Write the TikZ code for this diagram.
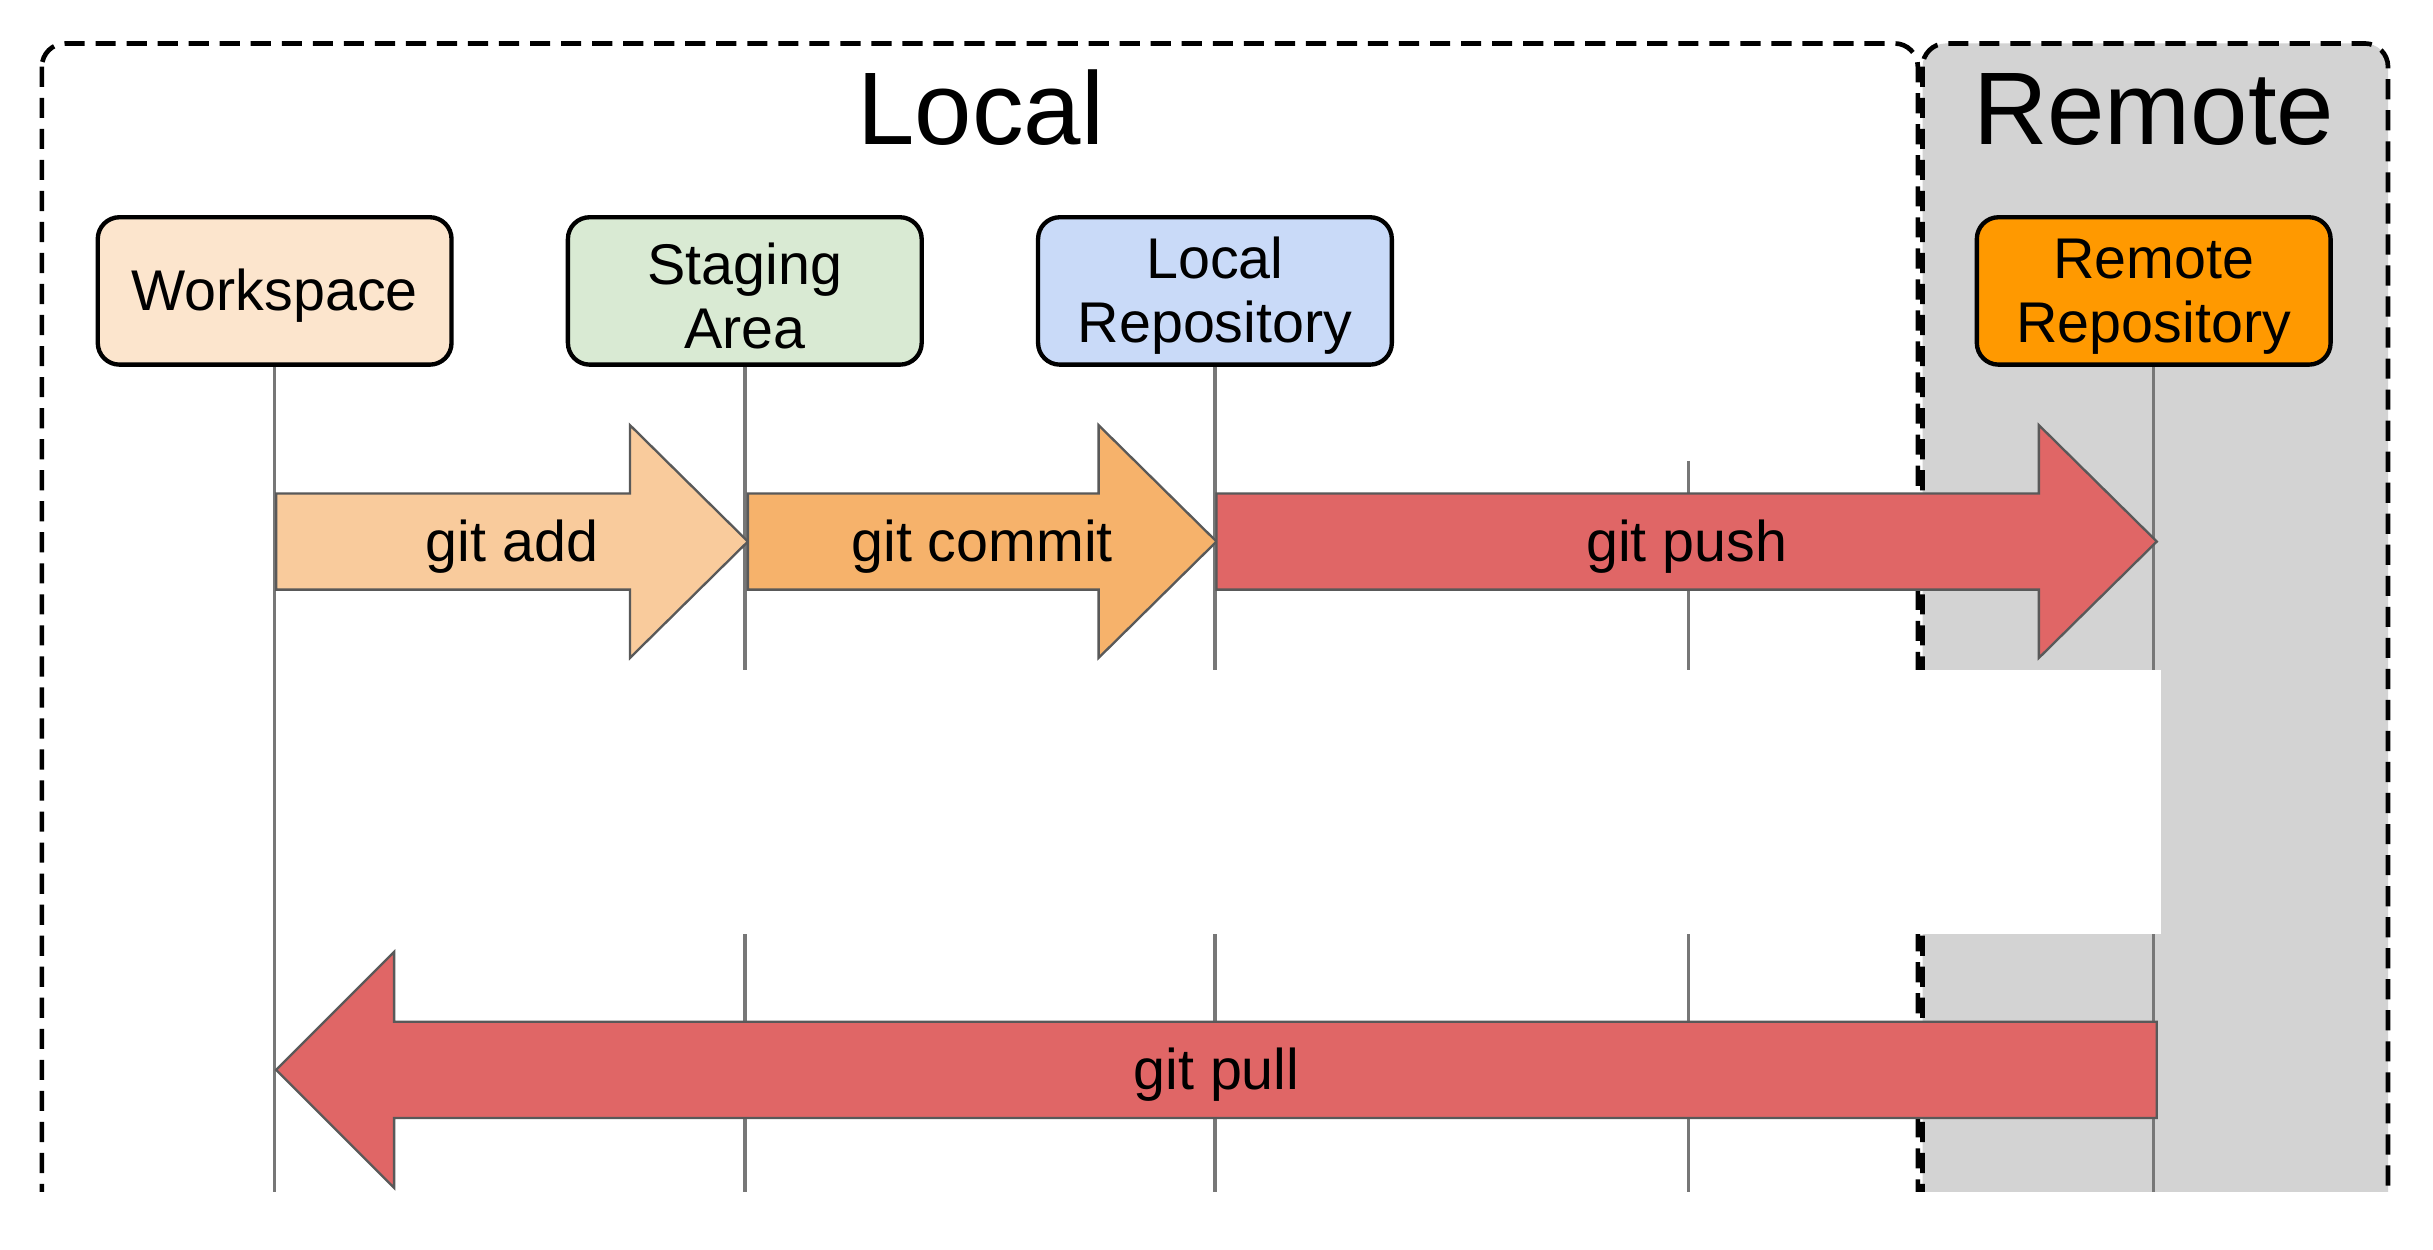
\documentclass[tikz,border=0pt]{standalone}
\usepackage{fontspec}
\setmainfont{Liberation Sans}
\definecolor{wsfill}{HTML}{FCE5CD}
\definecolor{safill}{HTML}{D9EAD3}
\definecolor{lrfill}{HTML}{C9DAF8}
\definecolor{rrfill}{HTML}{FF9900}
\definecolor{addfill}{HTML}{F9CB9C}
\definecolor{comfill}{HTML}{F6B26B}
\definecolor{redfill}{HTML}{E06666}
\definecolor{remgrey}{HTML}{D3D3D3}
\definecolor{linegrey}{HTML}{777777}
\newcommand\blockR[4]{% fill, tail x, tip x, centre y
  \filldraw[blockarrow, fill=#1] ({#2},{#4-31}) -- ({#3-76},{#4-31}) -- ({#3-76},{#4-75}) -- ({#3},{#4}) -- ({#3-76},{#4+75}) -- ({#3-76},{#4+31}) -- ({#2},{#4+31}) -- cycle;}
\newcommand\blockL[4]{% fill, tail x, tip x, centre y
  \filldraw[blockarrow, fill=#1] ({#2},{#4-31}) -- ({#3+76},{#4-31}) -- ({#3+76},{#4-76}) -- ({#3},{#4}) -- ({#3+76},{#4+76}) -- ({#3+76},{#4+31}) -- ({#2},{#4+31}) -- cycle;}
\newcommand\upstrut{\rule{0pt}{33pt}}
\begin{document}
\begin{tikzpicture}[x=1pt,y=-1pt,
  repo/.style={draw=black, line width=2.8pt, rounded corners=14pt, minimum width=228pt, minimum height=95pt, align=center, inner sep=0pt, font=\fontsize{37}{41}\selectfont},
  vline/.style={draw=linegrey, line width=2.2pt},
  blockarrow/.style={draw=black!65, line width=1.5pt, line join=miter},
  frame/.style={draw=black, line width=3pt, dash pattern=on 13pt off 7pt},
  title/.style={font=\fontsize{66.5}{70}\selectfont, anchor=base, inner sep=0pt},
  cmd/.style={font=\fontsize{37}{41}\selectfont, anchor=base, inner sep=0pt}]
\useasboundingbox (0,0) rectangle (1568,805);
\fill[white] (0,0) rectangle (1568,805);
% frames
\begin{scope}
  \clip (0,0) rectangle (1568,768);
  \draw[frame, rounded corners=15pt] (27,28) rectangle (1236,820);
  \filldraw[frame, fill=remgrey, rounded corners=15pt] (1239,28) rectangle (1539,820);
\end{scope}
\node[title] (loc) at (632,93) {Local};
\node[title] (rem) at (1388,93) {Remote};
% repositories
\node[repo, fill=wsfill] (ws) at (177,187.5) {\upstrut Workspace};
\node[repo, fill=safill] (sa) at (480,187.5) {\upstrut Staging\\Area};
\node[repo, fill=lrfill] (lr) at (783,187.5) {\upstrut Local\\Repository};
\node[repo, fill=rrfill] (rr) at (1388,187.5) {\upstrut Remote\\Repository};
% lifelines
\coordinate (wsE) at (ws.south |- 0,768);
\coordinate (saE) at (sa.south |- 0,768);
\coordinate (lrE) at (lr.south |- 0,768);
\coordinate (rrE) at (rr.south |- 0,768);
\coordinate (mT) at (1088,297);
\coordinate (mE) at (1088,768);
\draw[vline] (ws.south) -- (wsE);
\draw[vline] (sa.south) -- (saE);
\draw[vline] (lr.south) -- (lrE);
\draw[vline] (rr.south) -- (rrE);
\draw[vline] (mT) -- (mE);
% blank band
\fill[white] (180,432) rectangle (1393,602);
% block arrows
\blockR{addfill}{178}{482}{349}
\blockR{comfill}{482}{784}{349}
\blockR{redfill}{784}{1390}{349}
\blockL{redfill}{1390}{178}{689.5}
\node[cmd] (addl) at (330,362) {git add};
\node[cmd] (coml) at (633,362) {git commit};
\node[cmd] (pushl) at (1087,362) {git push};
\node[cmd] (pulll) at (784,702) {git pull};
\end{tikzpicture}
\end{document}
